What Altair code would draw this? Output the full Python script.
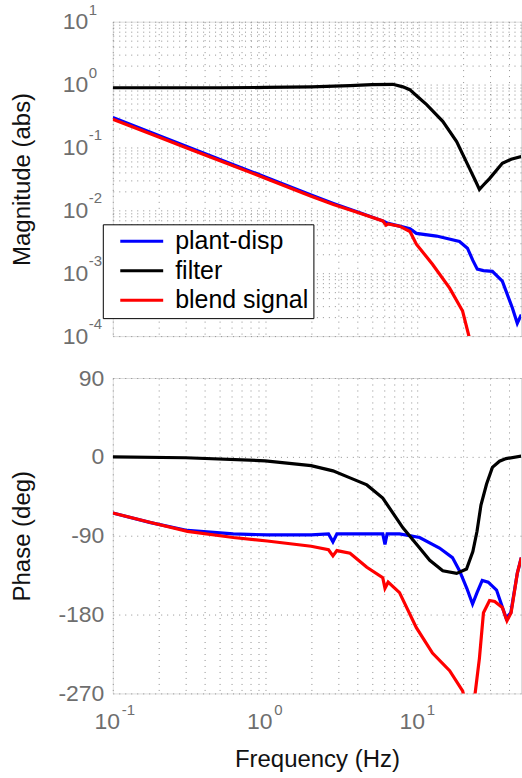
import altair as alt
import pandas as pd

# ---------------- data ----------------
SERIES = ["plant-disp", "filter", "blend signal"]
COLORS = ["#0000ff", "#000000", "#ff0000"]

# magnitude (abs)
pd_mag_f = [0.1, 0.2, 0.3, 0.5, 1.0, 2.0, 2.8, 4.0, 5.9, 6.2, 6.4, 7.6, 8.9, 9.8, 13.3, 18.8,
            21.2, 23.0, 24.6, 27.0, 30.9, 35.9, 41.8, 45.0, 47.8]
pd_mag_v = [0.30, 0.155, 0.106, 0.065, 0.034, 0.0175, 0.0129, 0.0095, 0.0068, 0.0064, 0.0062,
            0.0056, 0.0051, 0.0043, 0.0039, 0.0032, 0.0025, 0.0016, 0.00116, 0.0011, 0.00107,
            0.00075, 0.00028, 0.00016, 0.00022]

flt_mag_f = [0.1, 0.5, 1.0, 2.0, 3.6, 5.0, 6.87, 8.0, 8.87, 10.0, 11.45, 14.6, 18.0, 21.9,
             24.0, 25.4, 27.0, 29.6, 35.9, 41.0, 47.8]
flt_mag_v = [0.89, 0.89, 0.90, 0.92, 0.96, 1.0, 1.01, 0.92, 0.83, 0.64, 0.48, 0.26, 0.124, 0.046,
             0.029, 0.0215, 0.0253, 0.032, 0.056, 0.065, 0.072]

bl_mag_f = [0.1, 0.2, 0.3, 0.5, 1.0, 2.0, 2.8, 4.0, 5.9, 6.2, 6.4, 7.6, 8.9, 9.8, 12.5, 16.2,
            19.7, 22.5]
bl_mag_v = [0.28, 0.147, 0.100, 0.062, 0.0325, 0.0168, 0.0124, 0.0093, 0.0068, 0.0058, 0.0061,
            0.0056, 0.0046, 0.0029, 0.00139, 0.00058, 0.00025, 0.00007]

# phase (deg)
pd_ph_f = [0.1, 0.177, 0.309, 0.617, 1.03, 2.0, 2.6, 2.78, 2.95, 4.64, 5.9, 6.1, 6.3, 7.6, 10.3,
           13.9, 16.9, 18.8, 21.0, 22.9, 24.5, 26.5, 29.0, 32.9, 38.0, 40.8, 45.0, 47.8]
pd_ph_v = [-64, -75, -84, -88, -89, -89, -88, -97, -88, -88, -88, -100, -88, -88, -92,
           -104, -115, -130, -150, -168, -155, -141, -143, -152, -184, -178, -133, -115]

flt_ph_f = [0.1, 0.3, 1.0, 2.0, 2.78, 3.6, 4.64, 5.9, 8.0, 10.3, 12.0, 14.6, 18.0, 20.9, 23.0,
            24.5, 26.0, 28.3, 30.9, 34.4, 38.0, 47.8]
flt_ph_v = [0, -1, -4.5, -10, -16, -24, -32, -47, -81, -104, -118, -130, -133, -128, -108,
            -85, -55, -31, -12, -5, -2, 1]

bl_ph_f = [0.1, 0.177, 0.309, 0.617, 1.03, 2.0, 2.6, 2.78, 2.95, 3.6, 4.64, 5.9, 6.1, 6.4, 7.6,
           9.8, 12.5, 16.2, 19.7, 21.0, 22.5, 23.8, 25.4, 27.0, 29.6, 32.0, 35.9, 38.5, 41.0,
           45.0, 47.8]
bl_ph_v = [-64, -75, -85, -92, -96, -102, -106, -113, -107, -110, -126, -138, -150, -143, -155,
           -195, -224, -244, -267, -285, -290, -270, -230, -178, -164, -165, -172, -187, -178,
           -133, -115]

# axis ticks / labels
X_GRID = [m * 10.0 ** e for e in (-1, 0, 1) for m in range(1, 10) if m * 10.0 ** e <= 45]
X_DECADES = [0.1, 1, 10]
X_EXPONENTS = ["-1", "0", "1"]
Y_GRID = [m * 10 ** e for e in range(-4, 1) for m in range(1, 10)] + [10]
Y_DECADES = [0.0001, 0.001, 0.01, 0.1, 1, 10]
Y_EXPONENTS = ["-4", "-3", "-2", "-1", "0", "1"]
PH_TICKS = [-270, -180, -90, 0, 90]

X_DOMAIN = [0.1, 47.6]
MAG_DOMAIN = [0.0001, 10]
PH_DOMAIN = [-270, 90]

# ---------------- tables ----------------
def long(fs, vs, name):
    return pd.DataFrame({"f": fs, "v": vs, "s": name})

mag = pd.concat([long(pd_mag_f, pd_mag_v, SERIES[0]),
                 long(flt_mag_f, flt_mag_v, SERIES[1]),
                 long(bl_mag_f, bl_mag_v, SERIES[2])], ignore_index=True)
ph = pd.concat([long(pd_ph_f, pd_ph_v, SERIES[0]),
                long(flt_ph_f, flt_ph_v, SERIES[1]),
                long(bl_ph_f, bl_ph_v, SERIES[2])], ignore_index=True)

y_exp_df = pd.DataFrame({"f": [X_DOMAIN[0]] * len(Y_DECADES), "v": Y_DECADES, "t": Y_EXPONENTS})
x_exp_df = pd.DataFrame({"f": X_DECADES, "v": [PH_DOMAIN[0]] * len(X_DECADES), "t": X_EXPONENTS})


def decade_expr(vals):
    return " || ".join(f"datum.value == {v}" for v in vals) + " ? '10' : ''"


FONT = "Liberation Sans"
LABEL_GREY = "#6e6e6e"

x_scale = alt.Scale(type="log", domain=X_DOMAIN, nice=False)
mag_scale = alt.Scale(type="log", domain=MAG_DOMAIN, nice=False)
ph_scale = alt.Scale(domain=PH_DOMAIN, nice=False, zero=False)
color_scale = alt.Scale(domain=SERIES, range=COLORS)

common_axis = dict(ticks=False, domain=False, grid=True, gridColor="#909090",
                   gridDash=[1, 5], gridWidth=1, labelFont=FONT, labelFontSize=23,
                   labelColor=LABEL_GREY, labelFlush=False, titleFont=FONT, titleFontSize=24,
                   titleColor="#111111", titleFontWeight="normal")

legend = alt.Legend(title=None, orient="none", legendX=-10, legendY=203,
                    fillColor="white", strokeColor="black", padding=4.5,
                    symbolType="M-2.15,0H2.15", symbolSize=400, symbolStrokeWidth=3,
                    symbolOffset=22, labelOffset=21, rowPadding=3.5,
                    labelFont=FONT, labelFontSize=25, labelColor="black",
                    labelExpr="datum.label + '\u00a0\u00a0'",
                    cornerRadius=0, labelLimit=300)


def lines(df, x_axis, y_field_scale, y_axis, with_legend):
    layers = []
    for i, name in enumerate(SERIES):
        layers.append(
            alt.Chart(df).transform_filter(alt.datum.s == name)
            .mark_line(strokeWidth=3.2, clip=True)
            .encode(
                x=alt.X("f:Q", scale=x_scale, axis=x_axis),
                y=alt.Y("v:Q", scale=y_field_scale, axis=y_axis),
                color=alt.Color("s:N", scale=color_scale,
                                legend=legend if (with_legend and i == 0) else None),
            )
        )
    return layers


def exponent_layer(df, y_field_scale, dx, dy, align):
    return alt.Chart(df).mark_text(
        font=FONT, fontSize=15, color=LABEL_GREY, align=align, baseline="middle",
        dx=dx, dy=dy
    ).encode(
        x=alt.X("f:Q", scale=x_scale),
        y=alt.Y("v:Q", scale=y_field_scale),
        text="t:N",
    )


top_x_axis = alt.Axis(values=X_GRID, labels=False, title=None, **common_axis)
top_y_axis = alt.Axis(values=Y_GRID, labelExpr=decade_expr(Y_DECADES),
                      title="Magnitude (abs)", labelPadding=25, titleX=-90,
                      titleBaseline="middle", **common_axis)

bot_x_axis = alt.Axis(values=X_GRID, labelExpr=decade_expr(X_DECADES),
                      title="Frequency (Hz)", labelPadding=17, titlePadding=14,
                      labelOffset=-6, labelOverlap=False, **common_axis)
bot_y_axis = alt.Axis(values=PH_TICKS, labelExpr="toString(datum.value)",
                      title="Phase (deg)", labelPadding=9, titleX=-90,
                      titleBaseline="middle", **common_axis)

top = alt.layer(
    *lines(mag, top_x_axis, mag_scale, top_y_axis, True),
    exponent_layer(y_exp_df, mag_scale, -24, -12, "left"),
).properties(width=409, height=315)

bottom = alt.layer(
    *lines(ph, bot_x_axis, ph_scale, bot_y_axis, False),
    exponent_layer(x_exp_df, ph_scale, 9, 17, "left"),
).properties(width=409, height=316)

chart = alt.vconcat(top, bottom, spacing=17).properties(
    padding={"left": 10, "top": 1, "right": 0, "bottom": 0}
).configure_view(stroke="#6a6a6a", strokeWidth=1).configure(font=FONT, background="white")

chart.save("out.html", embed_options={"renderer": "svg", "actions": False})
